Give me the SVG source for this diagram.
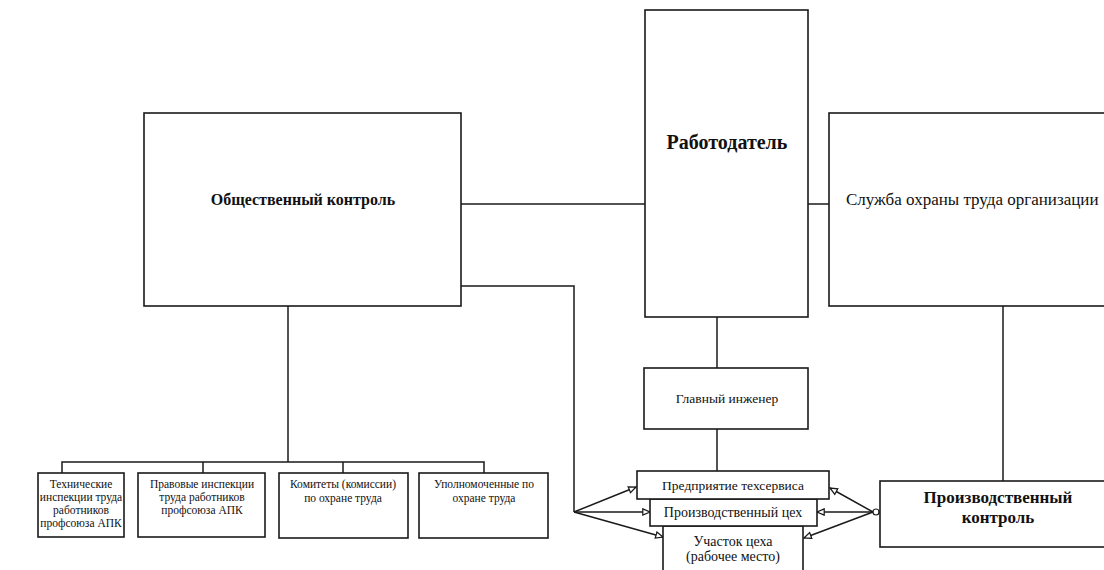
<svg xmlns="http://www.w3.org/2000/svg" width="1104" height="570" viewBox="0 0 1104 570">
<defs>
<style>
.box{fill:#fff;stroke:#1a1a1a;stroke-width:1.6}
.ln{fill:none;stroke:#1a1a1a;stroke-width:1.5}
.t{font-family:"Liberation Serif","Times New Roman",serif;fill:#111;text-anchor:middle}
.big{font-weight:bold}
.mid{font-size:14px}
.sm{font-size:11.5px}
</style>
<marker id="ah" viewBox="0 0 10 10" refX="9" refY="5" markerWidth="9" markerHeight="9" markerUnits="userSpaceOnUse" orient="auto">
<path d="M1,1.5 L9,5 L1,8.5 Z" fill="#fff" stroke="#1a1a1a" stroke-width="1.4"/>
</marker>
</defs>
<rect width="1104" height="570" fill="#fff"/>
<g id="connectors">
<path class="ln" d="M461,204 H645"/>
<path class="ln" d="M808,204 H829"/>
<path class="ln" d="M461,286 H574 V512"/>
<path class="ln" d="M717,317 V368"/>
<path class="ln" d="M717,429 V471"/>
<path class="ln" d="M1003,306 V481"/>
<path class="ln" d="M288,306 V462"/>
<path class="ln" d="M62,473 V462 H484 V473"/>
<path class="ln" d="M203,462 V473"/>
<path class="ln" d="M343,462 V473"/>
<path class="ln" d="M574,512 L636,487" marker-end="url(#ah)"/>
<path class="ln" d="M574,512 L650,512" marker-end="url(#ah)"/>
<path class="ln" d="M574,512 L663,537" marker-end="url(#ah)"/>
<path class="ln" d="M873,512 L830,488" marker-end="url(#ah)"/>
<path class="ln" d="M873,512 L817,512" marker-end="url(#ah)"/>
<path class="ln" d="M873,512 L804,538" marker-end="url(#ah)"/>
<circle cx="876" cy="512" r="3" fill="#fff" stroke="#1a1a1a" stroke-width="1.2"/>
<path class="ln" d="M879,512 H881"/>
</g>
<g id="n-obshch">
<rect class="box" x="144" y="113" width="317" height="193"/>
<text class="t big" x="303" y="205" style="font-size:16px">Общественный контроль</text>
</g>
<g id="n-rabotodatel">
<rect class="box" x="645" y="10" width="163" height="307"/>
<text class="t big" x="727" y="149" style="font-size:20px">Работодатель</text>
</g>
<g id="n-sluzhba">
<rect class="box" x="829" y="113" width="290" height="193"/>
<text class="t" x="846" y="205" style="font-size:17px;text-anchor:start">Служба охраны труда организации</text>
</g>
<g id="n-glavinzh">
<rect class="box" x="644" y="368" width="164" height="61"/>
<text class="t" x="727" y="403" style="font-size:13.5px">Главный инженер</text>
</g>
<g id="n-uchastok">
<rect class="box" x="663" y="526" width="140" height="60"/>
<text class="t mid" x="733" y="546">Участок цеха</text>
<text class="t mid" x="733" y="561">(рабочее место)</text>
</g>
<g id="n-tsekh">
<rect class="box" x="650" y="499" width="167" height="27"/>
<text class="t mid" x="733" y="517">Производственный цех</text>
</g>
<g id="n-predpr">
<rect class="box" x="637" y="471" width="192" height="28"/>
<text class="t" x="733" y="490" style="font-size:13.5px">Предприятие техсервиса</text>
</g>
<g id="n-prodkontrol">
<rect class="box" x="880" y="481" width="240" height="66"/>
<text class="t big" x="998" y="503" style="font-size:17px">Производственный</text>
<text class="t big" x="998" y="523" style="font-size:17px">контроль</text>
</g>
<g id="n-tech">
<rect class="box" x="38" y="473" width="86" height="64"/>
<text class="t sm" x="81" y="488">Технические</text>
<text class="t sm" x="81" y="501">инспекции труда</text>
<text class="t sm" x="81" y="514">работников</text>
<text class="t sm" x="81" y="527">профсоюза АПК</text>
</g>
<g id="n-prav">
<rect class="box" x="138" y="473" width="127" height="64"/>
<text class="t sm" x="202" y="488">Правовые инспекции</text>
<text class="t sm" x="202" y="501">труда работников</text>
<text class="t sm" x="202" y="514">профсоюза АПК</text>
</g>
<g id="n-komitety">
<rect class="box" x="279" y="473" width="129" height="65"/>
<text class="t sm" x="343" y="488">Комитеты (комиссии)</text>
<text class="t sm" x="343" y="502">по охране труда</text>
</g>
<g id="n-upoln">
<rect class="box" x="419" y="473" width="129" height="65"/>
<text class="t sm" x="484" y="488">Уполномоченные по</text>
<text class="t sm" x="484" y="502">охране труда</text>
</g>
</svg>
